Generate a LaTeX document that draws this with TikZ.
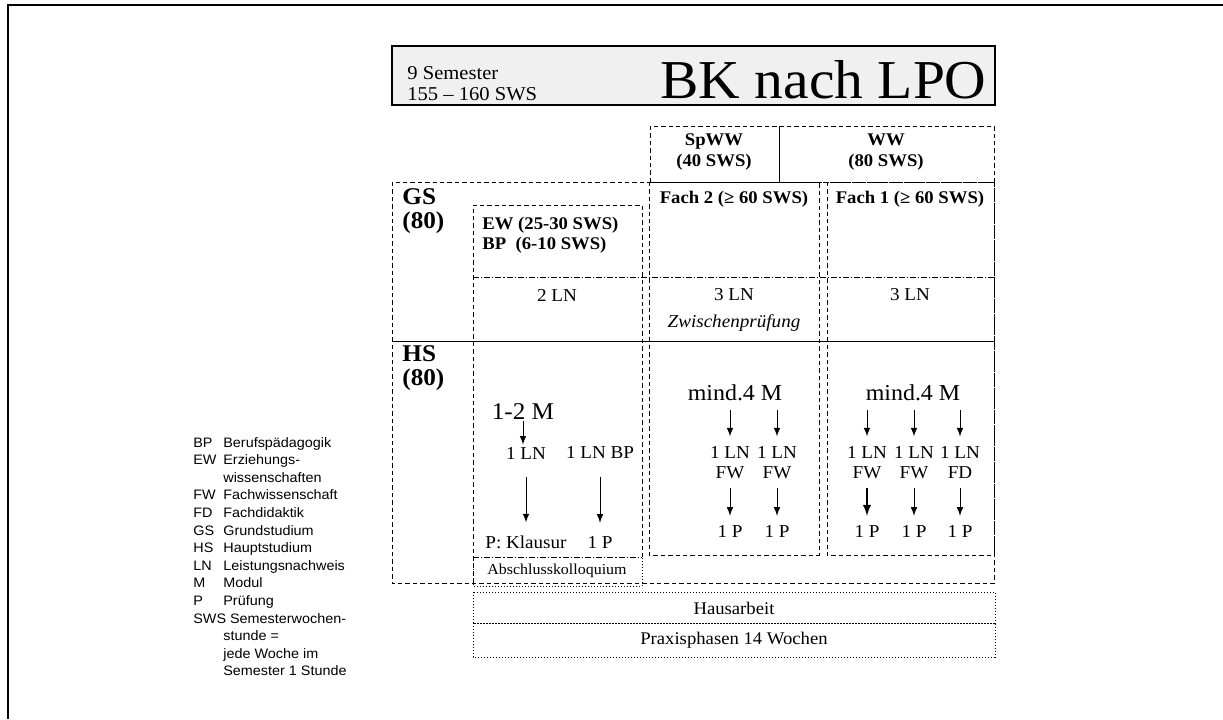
\documentclass[tikz,border=0pt]{standalone}
\usepackage{fontspec}
\setmainfont{Liberation Serif}[FakeStretch=1.05]
\newfontfamily\lgfont{Liberation Sans}[FakeStretch=1.05]
\usetikzlibrary{arrows,calc}
\newcommand{\lgitem}[2]{\makebox[15pt][l]{#1}#2}

\begin{document}
\begin{tikzpicture}[x=0.5pt, y=-0.5pt,
  dsh/.style={line width=0.5pt, dash pattern=on 2.2pt off 1.5pt},
  dshdot/.style={line width=0.5pt, dash pattern=on 3pt off 1pt on 0.6pt off 1pt},
  dots/.style={line width=0.5pt, densely dotted},
  txt/.style={inner sep=0pt, align=center, font=\fontsize{9.1}{10}\selectfont},
  hd/.style={inner sep=0pt, align=center, font=\bfseries\fontsize{8.9}{10.5}\selectfont},
  lbl/.style={inner sep=0pt, align=left, anchor=west, font=\bfseries\fontsize{12}{12}\selectfont},
  mm/.style={inner sep=0pt, font=\fontsize{11.4}{13}\selectfont},
  arr/.style={->, >=latex, line width=0.5pt},
  lgd/.style={inner sep=0pt, anchor=base west, font=\lgfont\fontsize{6.85}{8}\selectfont}]
\useasboundingbox (0,0) rectangle (1223,719);
\draw[line width=1pt] (8,719) -- (8,5) -- (1223,5);

% title
\draw[fill=gray!12, line width=0.7pt] (392,46) rectangle (995,105);
\node[inner sep=0pt, anchor=base west, font=\fontsize{9.8}{12}\selectfont] (sem) at (407,79) {9 Semester};
\node[inner sep=0pt, anchor=base west, font=\fontsize{9.8}{12}\selectfont] (sws) at (407,100) {155 -- 160 SWS};
\node[inner sep=0pt, anchor=base east, font=\fontsize{27.4}{30}\selectfont] (bk) at (987,98) {BK nach LPO};

% header
\draw[dsh] (650,126) rectangle (994,182);
\draw[line width=0.5pt] (779,126) -- (779,182);
\node[hd] (spww) at (714,152) {SpWW\\(40 SWS)};
\node[hd] (ww) at (886,152) {WW\\(80 SWS)};

% grid
\draw[dsh] (392,182) rectangle (994,583);
\draw[line width=0.5pt] (392,341) -- (994,341);
\draw[dsh] (473,583) -- (473,205) -- (642,205) -- (642,557);
\draw[dsh] (649,182) rectangle (819,555);
\draw[dsh] (827,182) rectangle (994,555);
\draw[dshdot] (473,277) -- (994,277);
\draw[dshdot] (473,557) -- (642,557);
\draw[dots] (473,557) -- (473,586) -- (642,586) -- (642,557);

\node[lbl] (gs) at (402,211) {GS\\(80)};
\node[lbl] (hs) at (402,368) {HS\\(80)};
\node[hd, align=left, anchor=west, font=\bfseries\fontsize{8.9}{10}\selectfont] (ew) at (482,235) {EW (25-30 SWS)\\BP~~(6-10 SWS)};
\node[hd] (fach2) at (734,199) {Fach 2 (≥ 60 SWS)};
\node[hd] (fach1) at (910,199) {Fach 1 (≥ 60 SWS)};

\node[txt] (ln2) at (557,295) {2 LN};
\node[txt] (ln3a) at (734,295) {3 LN};
\node[txt] (ln3b) at (910,295) {3 LN};
\node[txt, font=\itshape\fontsize{9.1}{10}\selectfont] (zp) at (734,323) {Zwischenprüfung};

% HS, EW column
\node[mm, font=\fontsize{12}{13}\selectfont] (m12) at (523,412) {1-2 M};
\node[txt] (ew1) at (526,453) {1 LN};
\node[txt] (ew2) at (600,453) {1 LN BP};
\node[txt] (pk) at (526,542) {P: Klausur};
\node[txt] (pbp) at (600,542) {1 P};
\node[txt, font=\fontsize{7.6}{8}\selectfont] (ak) at (557,571) {Abschlusskolloquium};
\draw[arr, shorten <=0.3pt, shorten >=1pt] (m12.south) -- (m12.south |- ew1.north);
\draw[arr, shorten <=9pt, shorten >=6.4pt] (ew1.south) -- (ew1.south |- pk.north);
\draw[arr, shorten <=9pt, shorten >=6.4pt] (ew2.south) -- (ew2.south |- pbp.north);

% HS, Fach 2
\node[mm] (m2) at (735,393) {mind.4 M};
\node[txt] (f2a) at (730,463) {1 LN\\FW};
\node[txt] (f2b) at (777,463) {1 LN\\FW};
\node[txt] (p2a) at (730,531) {1 P};
\node[txt] (p2b) at (777,531) {1 P};
\draw[arr, shorten <=4.5pt, shorten >=5pt] (f2a.north |- m2.south) -- (f2a.north);
\draw[arr, shorten <=4.5pt, shorten >=5pt] (f2b.north |- m2.south) -- (f2b.north);
\draw[arr, shorten <=4.4pt, shorten >=4.4pt] (f2a) -- (p2a);
\draw[arr, shorten <=4.4pt, shorten >=4.4pt] (f2b) -- (p2b);

% HS, Fach 1
\node[mm] (m1) at (913,393) {mind.4 M};
\node[txt] (f1a) at (867,463) {1 LN\\FW};
\node[txt] (f1b) at (914,463) {1 LN\\FW};
\node[txt] (f1c) at (960,463) {1 LN\\FD};
\node[txt] (p1a) at (867,531) {1 P};
\node[txt] (p1b) at (914,531) {1 P};
\node[txt] (p1c) at (960,531) {1 P};
\draw[arr, shorten <=4.5pt, shorten >=5pt] (f1a.north |- m1.south) -- (f1a.north);
\draw[arr, shorten <=4.5pt, shorten >=5pt] (f1b.north |- m1.south) -- (f1b.north);
\draw[arr, shorten <=4.5pt, shorten >=5pt] (f1c.north |- m1.south) -- (f1c.north);
\draw[arr, line width=0.9pt, shorten <=4.4pt, shorten >=4.4pt] (f1a) -- (p1a);
\draw[arr, shorten <=4.4pt, shorten >=4.4pt] (f1b) -- (p1b);
\draw[arr, shorten <=4.4pt, shorten >=4.4pt] (f1c) -- (p1c);

% bottom rows
\draw[dots] (473,592) rectangle (995,623);
\draw[dots] (473,623) rectangle (995,657);
\node[txt, font=\fontsize{8.9}{10}\selectfont] (ha) at (734,608) {Hausarbeit};
\node[txt, font=\fontsize{8.9}{10}\selectfont] (pp) at (734,640) {Praxisphasen 14 Wochen};

% legend
\node[lgd] (lgBP) at (193,447) {\lgitem{BP}{Berufspädagogik}};
\node[lgd] (lgEW) at (193,464.6) {\lgitem{EW}{Erziehungs-}};
\node[lgd] (lgEWb) at (193,482.2) {\lgitem{}{wissenschaften}};
\node[lgd] (lgFW) at (193,499.8) {\lgitem{FW}{Fachwissenschaft}};
\node[lgd] (lgFD) at (193,517.4) {\lgitem{FD}{Fachdidaktik}};
\node[lgd] (lgGS) at (193,535) {\lgitem{GS}{Grundstudium}};
\node[lgd] (lgHS) at (193,552.6) {\lgitem{HS}{Hauptstudium}};
\node[lgd] (lgLN) at (193,570.2) {\lgitem{LN}{Leistungsnachweis}};
\node[lgd] (lgM) at (193,587.8) {\lgitem{M}{Modul}};
\node[lgd] (lgP) at (193,605.4) {\lgitem{P}{Prüfung}};
\node[lgd] (lgSWS) at (193,623) {SWS Semesterwochen-};
\node[lgd] (lgSWSb) at (193,640.6) {\lgitem{}{stunde =}};
\node[lgd] (lgSWSc) at (193,658.2) {\lgitem{}{jede Woche im}};
\node[lgd] (lgSWSd) at (193,675.8) {\lgitem{}{Semester 1 Stunde}};
\end{tikzpicture}
\end{document}
